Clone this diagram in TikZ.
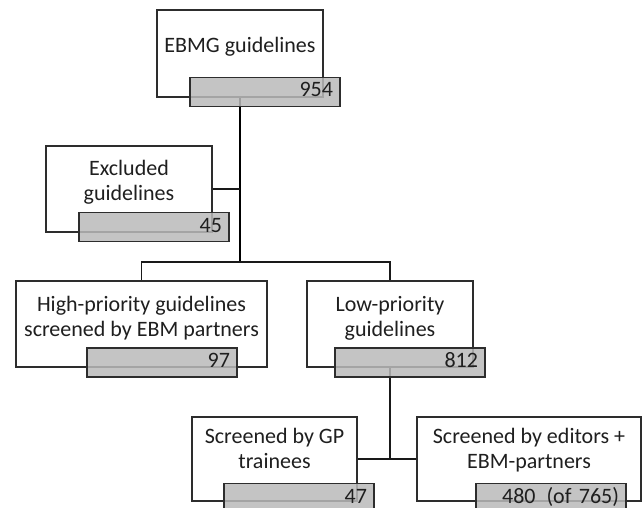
\documentclass[tikz,border=0pt]{standalone}
\usepackage{fontspec}
\setmainfont{Carlito}
\usepackage{tikz}
\usetikzlibrary{positioning,backgrounds}
\definecolor{boxline}{RGB}{45,45,45}
\definecolor{countgray}{RGB}{186,186,186}

\begin{document}
\begin{tikzpicture}[x=1pt,y=-1pt,
  every node/.style={font=\fontsize{22}{25}\selectfont,text=black!88},
  guidebox/.style={draw=boxline,fill=white,line width=1.2pt,align=center,inner sep=0pt,text depth=17pt},
  countbox/.style={draw=boxline,fill=countgray,fill opacity=0.85,text opacity=1,line width=1.2pt,
    inner xsep=7pt,inner ysep=0pt,minimum width=150pt,minimum height=29pt,text width=136pt,
    align=right,text height=14pt,text depth=4pt},
  link/.style={draw=black!90,line width=1.3pt},
  trunk/.style={draw=black,line width=2.4pt}]
\useasboundingbox (0,0) rectangle (642,508);
% top: all guidelines
\node[guidebox,minimum width=166pt,minimum height=87pt] (ebmg) at (240,53.5) {EBMG guidelines};
\node[countbox] (ebmgN) at (265,92) {954};
% excluded branch
\node[guidebox,minimum width=166pt,minimum height=86pt] (excl) at (129,189) {Excluded\\guidelines};
\node[countbox] (exclN) at (154,227) {45};
% priority split
\node[guidebox,minimum width=251pt,minimum height=86pt,text depth=15pt] (high) at (141.5,324) {High-priority guidelines\\screened by EBM partners};
\node[countbox] (highN) at (162,362.5) {97};
\node[guidebox,minimum width=166pt,minimum height=86pt,text depth=15pt] (low) at (390,324) {Low-priority\\guidelines};
\node[countbox] (lowN) at (410,362.5) {812};
% low-priority screening
\node[guidebox,minimum width=165pt,minimum height=84pt,text depth=21pt] (gp) at (274.5,459) {Screened by GP\\trainees};
\node[countbox] (gpN) at (299,498) {47};
\node[guidebox,minimum width=224pt,minimum height=84pt,text depth=21pt] (ed) at (529,459) {Screened by editors +\\EBM-partners};
\node[countbox] (edN) at (551,498) {480\enspace(of 765)};

\coordinate (split) at (240,262);
\coordinate (lowsplit) at (390,459);
\begin{scope}[on background layer]
\draw[trunk] (ebmg.south) -- (split);
\draw[link] (excl.east) -- (excl.east -| split);
\draw[link] (high.north) |- (split) -| (low.north);
\draw[link] (low.south) -- (lowsplit);
\draw[link] (gp.east) -- (ed.west);
\end{scope}
\end{tikzpicture}
\end{document}
